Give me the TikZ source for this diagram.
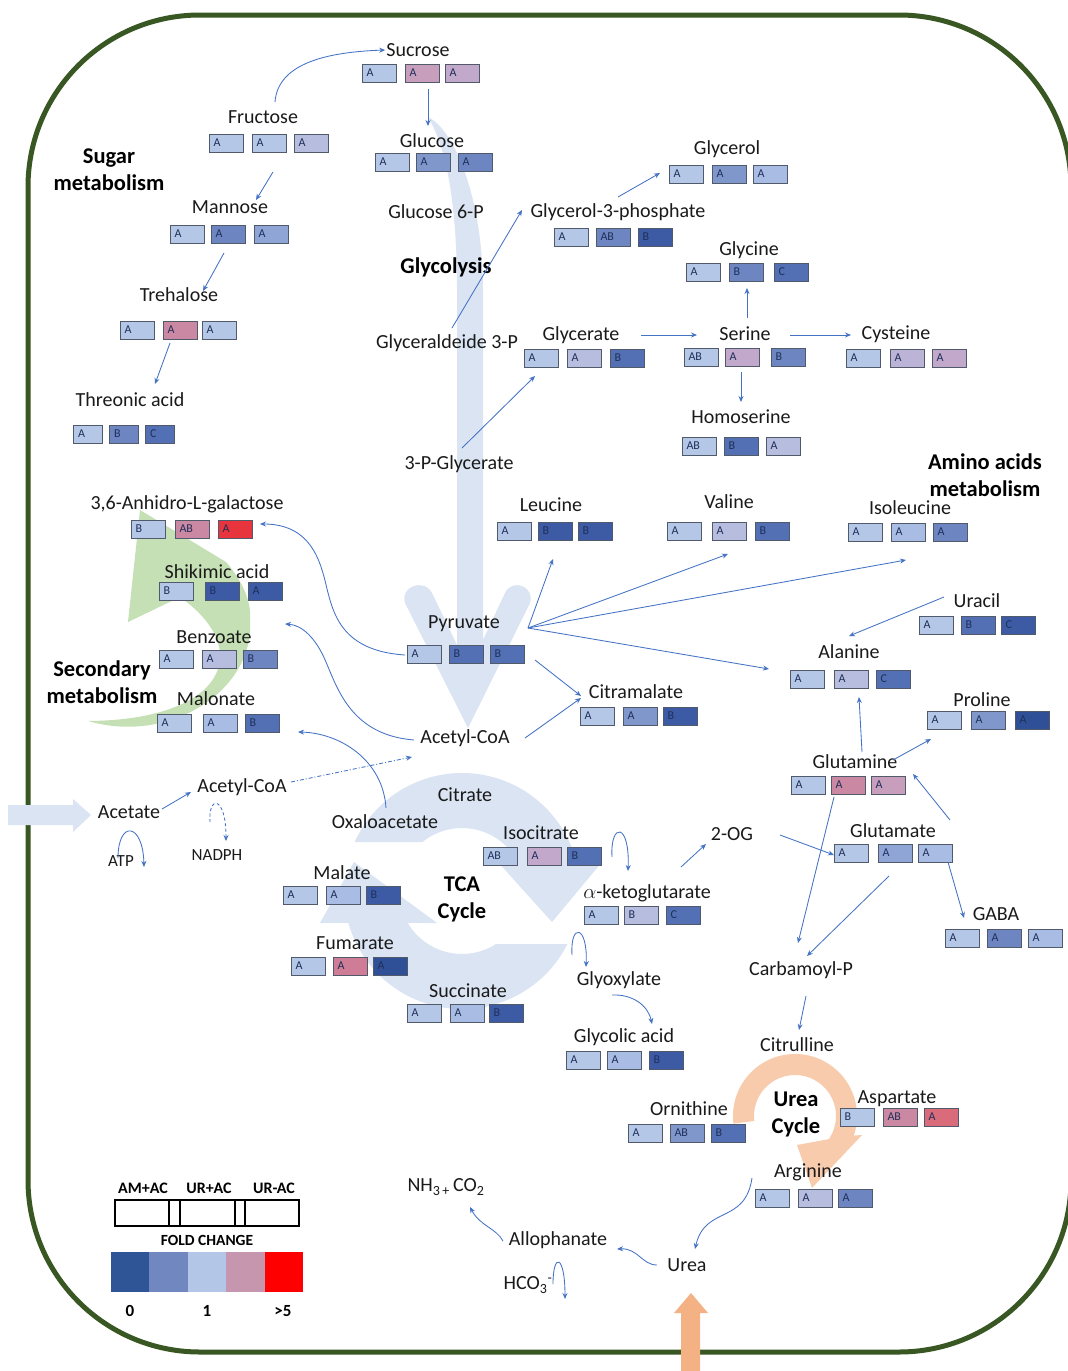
\documentclass[tikz,border=0pt]{standalone}
\usepackage{fontspec}
\setmainfont{Carlito}
\usetikzlibrary{arrows.meta}
\definecolor{lb}{HTML}{B4C7E7}
\definecolor{lb2}{HTML}{A9BCE3}
\definecolor{lv}{HTML}{B6BDDF}
\definecolor{lvm}{HTML}{BCB4D6}
\definecolor{m1}{HTML}{8EA5D5}
\definecolor{m2}{HTML}{8097CC}
\definecolor{m3}{HTML}{6D86C2}
\definecolor{d1}{HTML}{5270B3}
\definecolor{d2}{HTML}{3D5BA5}
\definecolor{d3}{HTML}{2F5096}
\definecolor{mv}{HTML}{C2A8CB}
\definecolor{mv2}{HTML}{C79FBC}
\definecolor{pk}{HTML}{CB88A2}
\definecolor{pk2}{HTML}{CF7D96}
\definecolor{rd}{HTML}{E8343C}
\definecolor{rd2}{HTML}{D96B7B}
\definecolor{boxline}{HTML}{505A6A}
\definecolor{boxtxt}{HTML}{1F2F5A}
\definecolor{conn}{HTML}{4472C4}
\definecolor{flow}{HTML}{DAE4F3}
\definecolor{sec}{HTML}{C5E0B4}
\definecolor{urea}{HTML}{F8CBAD}
\definecolor{urin}{HTML}{F4B183}
\definecolor{frame}{HTML}{385723}
\definecolor{lg1}{HTML}{2F5597}
\definecolor{lg2}{HTML}{7088BF}
\definecolor{lg3}{HTML}{B4C6E7}
\definecolor{lg4}{HTML}{C696AE}
\definecolor{lg5}{HTML}{FF0000}
\definecolor{ink}{HTML}{1A1A1A}
\tikzset{
  lab/.style={font=\fontsize{20}{22}\selectfont, text=ink, inner sep=1pt},
  sml/.style={font=\fontsize{17}{19}\selectfont, text=ink, inner sep=1pt},
  hd/.style={font=\bfseries\fontsize{22.5}{27}\selectfont, text=black, align=center, inner sep=1pt},
  lgd/.style={font=\bfseries\fontsize{16}{18}\selectfont, text=black, inner sep=1pt},
  bx/.style={draw=boxline, line width=0.9pt, minimum height=18pt, text width=25pt, inner xsep=4.5pt, inner ysep=0pt, align=left, font=\fontsize{12}{13}\selectfont, text=boxtxt},
  con/.style={draw=conn, line width=0.85pt, -{Stealth[length=6pt,width=5pt]}},
}
\newcommand\tri[4][]{\foreach \bxx/\bxc/\bxl [count=\bxn] in {#4}{\node[bx,fill=\bxc,#1] (#2-\bxn) at (\bxx,#3) {\bxl};}}
\begin{document}
\begin{tikzpicture}[x=1pt,y=-1pt]
\useasboundingbox (0,0) rectangle (1068,1371);
\fill[white] (0,0) rectangle (1068,1371);

% ---------- background flows ----------
% glycolysis
\fill[flow] (428,117) .. controls (448,150) and (457,210) .. (457,290) -- (457,645)
  -- (432,593) .. controls (424,578) and (400,586) .. (405,603) -- (468,728)
  -- (530,603) .. controls (535,586) and (512,578) .. (505,593) -- (483,640)
  -- (483,290) .. controls (483,200) and (455,130) .. (428,117) -- cycle;
% TCA cycle
\begin{scope}[shift={(462,891)}]
\fill[flow] (204.5:118) arc[start angle=204.5, end angle=345.3, radius=118]
  -- (140,-29) -- (90,31) -- (35,-30) -- (331.6:63)
  arc[start angle=331.6, end angle=231, radius=63] -- cycle;
\fill[flow] (26.7:118) arc[start angle=26.7, end angle=164.3, radius=118]
  -- (-142,32) -- (-108,-29) -- (-25,32) -- (149.5:63)
  arc[start angle=149.5, end angle=57.3, radius=63] -- cycle;
\end{scope}
% secondary metabolism
\fill[sec] (140,510) -- (128,622) -- (180,597) .. controls (255,650) and (225,720) .. (88,721)
  .. controls (170,745) and (255,690) .. (250,620) .. controls (252,600) and (240,578) .. (226,562) -- cycle;
% urea cycle
\begin{scope}[shift={(795,1116)}]
\fill[urea] (173:62) arc[start angle=173, end angle=378.4, radius=62]
  -- (67,19) -- (17,72) -- (2,29) -- (34.4:41)
  arc[start angle=394.4, end angle=173, radius=41] -- cycle;
\end{scope}

% ---------- frame ----------
\begin{scope}
\clip (0,0) rectangle (1068,1371);
\draw[frame, line width=5pt, rounded corners=172pt] (28,15) rectangle (1071,1352);
\end{scope}
% inflow arrows
\fill[flow] (8,805) -- (73,805) -- (73,799) -- (91,815) -- (73,832) -- (73,825) -- (8,825) -- cycle;
\fill[urin] (681,1371) -- (681,1313) -- (674,1313) -- (691,1293) -- (708,1313) -- (700,1313) -- (700,1371) -- cycle;

% ---------- headings ----------
\node[hd] (hsugar) at (109,170) {Sugar\\metabolism};
\node[hd] (hglyc) at (446,267) {Glycolysis};
\node[hd] (hamino) at (985,475) {Amino acids\\metabolism};
\node[hd] (hsec) at (102,682) {Secondary\\metabolism};
\node[hd] (htca) at (462,899) {TCA\\Cycle};
\node[hd] (hurea) at (796,1114) {Urea\\Cycle};

% ---------- labels ----------
\node[lab] (sucrose) at (418,50) {Sucrose};
\node[lab] (fructose) at (263,117) {Fructose};
\node[lab] (glucose) at (432,141) {Glucose};
\node[lab] (glc6p) at (436,212) {Glucose 6-P};
\node[lab] (mannose) at (230,207) {Mannose};
\node[lab] (trehalose) at (179,295) {Trehalose};
\node[lab] (threonic) at (130,400) {Threonic acid};
\node[lab] (gald) at (447,343) {Glyceraldeide 3-P};
\node[lab] (pgly) at (459,464) {3-P-Glycerate};
\node[lab] (glycerol) at (727,149) {Glycerol};
\node[lab] (glyc3p) at (618,212) {Glycerol-3-phosphate};
\node[lab] (glycine) at (749,250) {Glycine};
\node[lab] (glycerate) at (581,335) {Glycerate};
\node[lab] (serine) at (745,334) {Serine};
\node[lab] (cysteine) at (896,334) {Cysteine};
\node[lab] (homoserine) at (741,417) {Homoserine};
\node[lab] (leucine) at (551,505) {Leucine};
\node[lab] (valine) at (729,502) {Valine};
\node[lab] (isoleucine) at (910,508) {Isoleucine};
\node[lab] (uracil) at (977,601) {Uracil};
\node[lab] (alanine) at (849,652) {Alanine};
\node[lab] (proline) at (982,700) {Proline};
\node[lab] (citramalate) at (636,692) {Citramalate};
\node[lab] (pyruvate) at (464,624) {Pyruvate};
\node[lab] (acoa) at (465,738) {Acetyl-CoA};
\node[lab] (anhidro) at (187,504) {3,6-Anhidro-L-galactose};
\node[lab] (shikimic) at (217,572) {Shikimic acid};
\node[lab] (benzoate) at (214,637) {Benzoate};
\node[lab] (malonate) at (216,699) {Malonate};
\node[lab] (acetate) at (129,812) {Acetate};
\node[lab] (acoa2) at (242,787) {Acetyl-CoA};
\node[sml] (atp) at (121,861) {ATP};
\node[sml] (nadph) at (217,855) {NADPH};
\node[lab] (oxalo) at (385,822) {Oxaloacetate};
\node[lab] (citrate) at (465,795) {Citrate};
\node[lab] (isocitrate) at (541,833) {Isocitrate};
\node[lab] (malate) at (342,873) {Malate};
\node[lab] (fumarate) at (355,943) {Fumarate};
\node[lab] (succinate) at (468,991) {Succinate};
\node[lab] (akg) at (647,893) {$\alpha$-ketoglutarate};
\node[lab] (og) at (732,834) {2-OG};
\node[lab] (glyoxylate) at (619,980) {Glyoxylate};
\node[lab] (glycolic) at (624,1037) {Glycolic acid};
\node[lab] (glutamine) at (855,762) {Glutamine};
\node[lab] (glutamate) at (893,831) {Glutamate};
\node[lab] (gaba) at (996,914) {GABA};
\node[lab] (carbp) at (801,970) {Carbamoyl-P};
\node[lab] (citrulline) at (797,1045) {Citrulline};
\node[lab] (ornithine) at (689,1109) {Ornithine};
\node[lab] (aspartate) at (897,1099) {Aspartate};
\node[lab] (arginine) at (808,1172) {Arginine};
\node[lab] (urea) at (687,1265) {Urea};
\node[lab] (alloph) at (558,1240) {Allophanate};
\node[lab] (hco) at (528,1285) {HCO\textsubscript{3}\textsuperscript{-}};
\node[lab] (nh) at (446,1187) {NH\textsubscript{3\,+}\,CO\textsubscript{2}};

% ---------- boxes ----------
\tri{suc}{73}{379/lb/A, 422/mv2/A, 462/mv/A}
\tri{fru}{143}{226/lb/A, 269/lb/A, 311/lv/A}
\tri{glu}{162}{392/lb/A, 433/m2/A, 475/m3/A}
\tri{man}{234}{187/lb/A, 228/m3/A, 271/m1/A}
\tri{tre}{330}{137/lb/A, 180/pk/A, 219/lb/A}
\tri[text width=20pt]{thr}{434}{88/lb/A, 124/m3/B, 160/d1/C}
\tri{gol}{174}{686/lb/A, 729/m2/A, 770/lb2/A}
\tri{gtp}{237}{571/lb/A, 613/m3/AB, 655/d2/B}
\tri{gly}{272}{703/lb/A, 746/m3/B, 791/d1/C}
\tri{gra}{358}{541/lb/A, 584/lv/A, 627/d1/B}
\tri{ser}{357}{701/lb/AB, 742/mv/A, 788/m3/B}
\tri{cys}{358}{863/lb/A, 907/lvm/A, 949/mv/A}
\tri{hom}{446}{699/lb/AB, 741/d1/B, 783/lv/A}
\tri{leu}{531}{514/lb/A, 555/d2/B, 595/d2/B}
\tri{val}{531}{684/lb/A, 729/lv/A, 772/d1/B}
\tri{ile}{532}{865/lb/A, 908/lb2/A, 950/m3/A}
\tri{ura}{625}{936/lb/A, 978/d1/B, 1018/d2/C}
\tri{ala}{679}{807/lb/A, 851/lv/A, 893/d1/C}
\tri{pro}{720}{944/lb/A, 988/m2/A, 1032/d3/A}
\tri{ctm}{716}{597/lb/A, 640/m2/A, 680/d2/B}
\tri{pyr}{654}{424/lb/A, 466/d1/B, 507/d1/B}
\tri{anh}{529}{148/lb/B, 192/pk/AB, 235/rd/A}
\tri{shi}{591}{176/lb/B, 222/d2/B, 265/d2/A}
\tri{ben}{659}{176/lb/A, 219/lv/A, 260/m3/B}
\tri{mal}{723}{174/lb/A, 220/lb2/A, 262/d1/B}
\tri{iso}{856}{500/lb/AB, 544/mv/A, 584/d1/B}
\tri{mlt}{895}{300/lb/A, 343/lb2/A, 383/d2/B}
\tri{fum}{966}{308/lb/A, 350/pk2/A, 390/d3/A}
\tri{scn}{1013}{424/lb/A, 467/lb2/A, 506/d2/B}
\tri{akb}{915}{601/lb/A, 641/lv/B, 683/d1/C}
\tri{glc}{1060}{583/lb/A, 624/lb2/A, 666/d2/B}
\tri{gln}{785}{808/lb/A, 848/pk/A, 888/mv2/A}
\tri{glt}{853}{851/lb/A, 895/m1/A, 935/lb2/A}
\tri{gab}{938}{962/lb/A, 1004/m3/A, 1045/lb2/A}
\tri{orn}{1133}{645/lb/A, 687/m2/AB, 728/d1/B}
\tri{asp}{1117}{857/lb/B, 900/pk/AB, 941/rd2/A}
\tri{arg}{1198}{772/lb/A, 815/lv/A, 855/m3/A}

% ---------- connectors ----------
\coordinate (fan) at (528,628);
\draw[con] (275,102) .. controls (278,62) and (330,52) .. (sucrose.west);
\draw[con] (428,89) -- (428,126);
\draw[con] (273,172) -- (256,200);
\draw[con] (224,253) -- (203,291);
\draw[con] (170,343) -- (155,384);
\draw[con] (452,328) -- (522,210);
\draw[con] (618,197) -- (660,173);
\draw[con] (462,448) -- (535,376);
\draw[con] (641,335) -- (697,335);
\draw[con] (747,318) -- (747,288);
\draw[con] (790,335) -- (851,335);
\draw[con] (741,372) -- (741,402);
\draw[con] (fan) -- (553,559);
\draw[con] (fan) -- (728,554);
\draw[con] (fan) -- (906,560);
\draw[con] (fan) -- (769,669);
\draw[con] (535,660) -- (581,696);
\draw[con] (525,738) -- (581,698);
\draw[con] (944,597) -- (849,636);
\draw[con] (862,752) -- (859,697);
\draw[con] (893,760) -- (931,739);
\draw[con] (950,820) -- (913,774);
\draw[con] (780,835) -- (834,855);
\draw[con] (681,867) -- (706,844);
\draw[con] (948,862) -- (964,918);
\draw[con] (834,797) -- (798,943);
\draw[con] (889,876) -- (807,956);
\draw[con] (806,996) -- (799,1030);
\draw[con] (752,1178) .. controls (745,1225) and (705,1205) .. (695,1249);
\draw[con] (657,1265) .. controls (642,1265) and (638,1248) .. (617,1249);
\draw[con] (503,1241) .. controls (496,1228) and (480,1226) .. (470,1207);
\draw[con] (553,1284) .. controls (553,1252) and (565,1254) .. (565,1299);
\draw[con] (612,857) .. controls (610,822) and (630,822) .. (628,871);
\draw[con] (572,955) .. controls (570,922) and (588,925) .. (586,967);
\draw[con] (612,995) .. controls (632,994) and (648,1005) .. (652,1024);
\draw[con] (118,858) .. controls (118,820) and (143,822) .. (144,867);
\draw[con, dash pattern=on 3pt off 2.5pt] (210,822) .. controls (208,795) and (226,795) .. (226,841);
\draw[con] (162,809) -- (191,792);
\draw[con, dash pattern=on 4pt off 2pt on 1pt off 2pt] (291,782) -- (412,757);
\draw[con] (405,655) .. controls (330,650) and (332,600) .. (322,570) .. controls (313,540) and (295,524) .. (260,524);
\draw[con] (414,740) .. controls (352,735) and (338,690) .. (326,662) .. controls (316,638) and (302,625) .. (285,624);
\draw[con] (386,808) .. controls (383,760) and (340,733) .. (298,732);

% ---------- legend ----------
\node[lgd] (lam) at (143,1188) {AM+AC};
\node[lgd] (lur) at (209,1188) {UR+AC};
\node[lgd] (lum) at (274,1188) {UR-AC};
\draw[line width=1.6pt] (115,1200) rectangle (299,1226);
\foreach \lx in {169,180,235,245} \draw[line width=1.6pt] (\lx,1200) -- (\lx,1226);
\node[lgd, font=\bfseries\fontsize{15.5}{17}\selectfont] (lfc) at (207,1240) {FOLD CHANGE};
\foreach \lc [count=\li from 0] in {lg1,lg2,lg3,lg4,lg5}
  \fill[\lc] (111+38.4*\li,1252) rectangle (111+38.4*\li+38.4,1292);
\node[lgd, font=\bfseries\fontsize{17}{19}\selectfont] (l0) at (130,1311) {0};
\node[lgd, font=\bfseries\fontsize{17}{19}\selectfont] (l1) at (207,1311) {1};
\node[lgd, font=\bfseries\fontsize{17}{19}\selectfont] (l5) at (283,1311) {>5};
\end{tikzpicture}
\end{document}
